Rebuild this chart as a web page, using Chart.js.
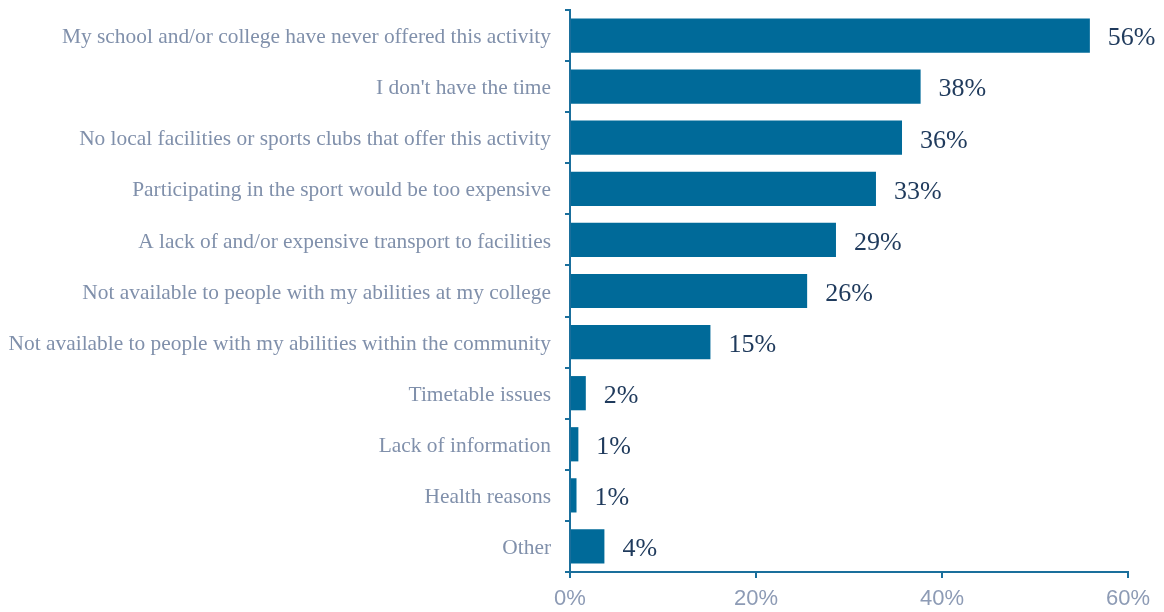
<!DOCTYPE html>
<html>
<head>
<meta charset="utf-8">
<script src="https://cdn.jsdelivr.net/npm/chart.js@4"></script>
<style>
  html, body { margin: 0; padding: 0; background: #ffffff; }
  #wrap { width: 1164px; height: 612px; position: relative; }
</style>
</head>
<body>
<div id="wrap"><canvas id="chart" width="1164" height="612"></canvas></div>
<script>
// Reasons for not taking part in the activity (share of respondents, %)
const categories = [
  "My school and/or college have never offered this activity",
  "I don't have the time",
  "No local facilities or sports clubs that offer this activity",
  "Participating in the sport would be too expensive",
  "A lack of and/or expensive transport to facilities",
  "Not available to people with my abilities at my college",
  "Not available to people with my abilities within the community",
  "Timetable issues",
  "Lack of information",
  "Health reasons",
  "Other"
];
const shares = [55.9, 37.7, 35.7, 32.9, 28.6, 25.5, 15.1, 1.7, 0.9, 0.7, 3.7];
const xTicks = [0, 20, 40, 60];

const barColor = "#006a99";
const axisColor = "#1a6f9c";
const labelColor = "#8090ab";
const valueColor = "#1f3a5c";

// Percentage labels drawn just past the end of each bar
const valueLabels = {
  id: "valueLabels",
  afterDatasetsDraw(chart) {
    const ctx = chart.ctx;
    const meta = chart.getDatasetMeta(0);
    ctx.save();
    ctx.font = "26px 'Liberation Serif', 'Times New Roman', serif";
    ctx.fillStyle = valueColor;
    ctx.textAlign = "left";
    ctx.textBaseline = "middle";
    meta.data.forEach((bar, i) => {
      const txt = Math.round(shares[i]) + "%";
      ctx.fillText(txt, bar.x + 18, bar.y + 3);
    });
    ctx.restore();
  }
};

new Chart(document.getElementById("chart"), {
  type: "bar",
  data: {
    labels: categories,
    datasets: [{
      data: shares,
      backgroundColor: barColor,
      borderWidth: 0,
      barPercentage: 0.67,
      categoryPercentage: 1.0
    }]
  },
  options: {
    indexAxis: "y",
    responsive: false,
    animation: false,
    devicePixelRatio: 1,
    layout: { padding: { top: 10, right: 36, bottom: 0, left: 0 } },
    plugins: {
      legend: { display: false },
      tooltip: { enabled: false }
    },
    scales: {
      x: {
        min: 0,
        max: 60,
        afterBuildTicks(scale) {
          scale.ticks = xTicks.map(v => ({ value: v }));
        },
        afterFit(scale) {
          scale.height = 40;
          scale.paddingLeft = 0;
          scale.paddingRight = 0;
        },
        border: { display: true, color: axisColor, width: 2 },
        grid: {
          display: true,
          drawOnChartArea: false,
          drawTicks: true,
          tickLength: 6,
          color: axisColor,
          lineWidth: 2
        },
        ticks: {
          padding: 8,
          color: "#8d9bb5",
          font: { family: "'Liberation Sans', Arial, sans-serif", size: 22 },
          callback: v => v + "%"
        }
      },
      y: {
        afterFit(scale) {
          scale.width = 570;
          scale.paddingTop = 0;
          scale.paddingBottom = 0;
        },
        border: { display: true, color: axisColor, width: 2 },
        grid: {
          display: true,
          offset: true,
          drawOnChartArea: false,
          drawTicks: true,
          tickLength: 5,
          color: axisColor,
          lineWidth: 2
        },
        ticks: {
          padding: 14,
          labelOffset: 2,
          color: labelColor,
          autoSkip: false,
          font: { family: "'Liberation Serif', 'Times New Roman', serif", size: 21.4 }
        }
      }
    }
  },
  plugins: [valueLabels]
});
</script>
</body>
</html>
